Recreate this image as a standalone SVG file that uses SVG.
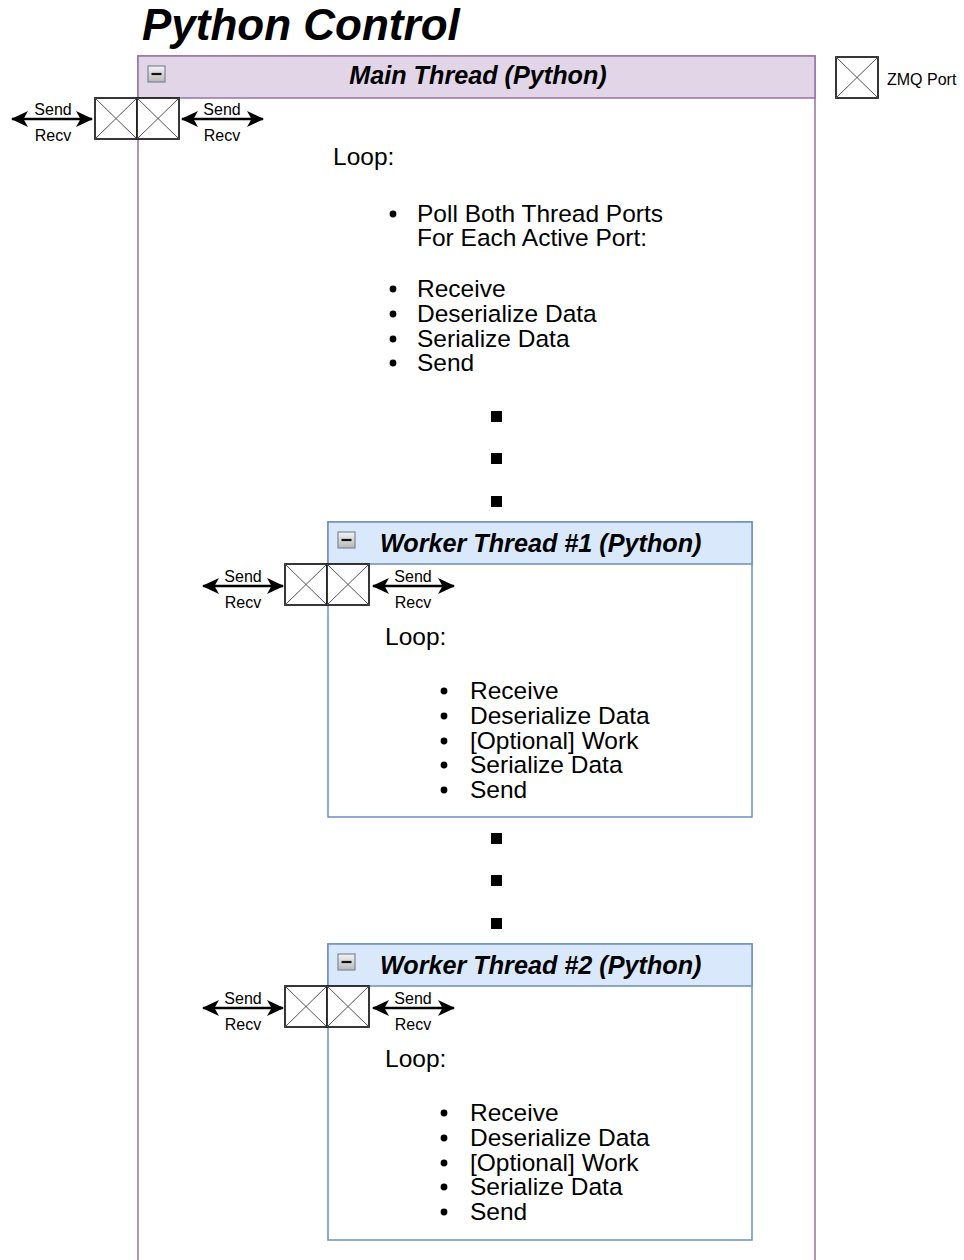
<svg xmlns="http://www.w3.org/2000/svg" width="964" height="1260" viewBox="0 0 964 1260">
<style>
text{font-family:"Liberation Sans",Arial,Helvetica,sans-serif;fill:#000}
.title{font-size:44px;font-weight:bold;font-style:italic}
.hdr{font-size:25.2px;font-weight:bold;font-style:italic}
.body{font-size:24.5px}
.sm{font-size:16px;text-anchor:middle}
.leg{font-size:16px}
.port{fill:#fff;stroke:#222;stroke-width:1.8}
.px{stroke:#555;stroke-width:1}
.arr{stroke:#000;stroke-width:2.5;fill:none;marker-start:url(#ah);marker-end:url(#ah)}
.dot{fill:#000}
</style>
<defs>
<marker id="ah" viewBox="0 0 17 16" refX="16" refY="8" markerWidth="17" markerHeight="16" orient="auto-start-reverse" markerUnits="userSpaceOnUse">
<path d="M0,0 L17,8 L0,16 L4.5,8 Z" fill="#000"/>
</marker>
<linearGradient id="cg" x1="0" y1="0" x2="0" y2="1">
<stop offset="0" stop-color="#f4f4f4"/>
<stop offset="1" stop-color="#b8b8b8"/>
</linearGradient>
<g id="collapse">
<rect x="0" y="0" width="17" height="16" fill="url(#cg)" stroke="#7a8796" stroke-width="1.2"/>
<line x1="3.5" y1="8" x2="13.5" y2="8" stroke="#111" stroke-width="2.2"/>
</g>
<g id="portbox">
<rect class="port" x="0" y="0" width="42" height="41"/>
<line class="px" x1="0" y1="0" x2="42" y2="41"/>
<line class="px" x1="42" y1="0" x2="0" y2="41"/>
</g>
</defs>

<text class="title" x="142" y="40">Python Control</text>

<g id="main-thread">
<rect x="138" y="56" width="677" height="1214" fill="#fff" stroke="#9673a6" stroke-width="1.5"/>
<rect x="138" y="56" width="677" height="42" fill="#e1d5e7" stroke="#9673a6" stroke-width="1.5"/>
<use href="#collapse" x="148" y="66"/>
<text class="hdr" x="478" y="84" text-anchor="middle">Main Thread (Python)</text>
<text class="body" x="333" y="165">Loop:</text>
<circle cx="393" cy="214" r="3.4"/>
<text class="body" x="417" y="222">Poll Both Thread Ports</text>
<text class="body" x="417" y="246">For Each Active Port:</text>
<circle cx="393" cy="289" r="3.4"/>
<text class="body" x="417" y="297">Receive</text>
<circle cx="393" cy="314" r="3.4"/>
<text class="body" x="417" y="322">Deserialize Data</text>
<circle cx="393" cy="339" r="3.4"/>
<text class="body" x="417" y="347">Serialize Data</text>
<circle cx="393" cy="363" r="3.4"/>
<text class="body" x="417" y="371">Send</text>
<rect class="dot" x="491" y="411" width="11" height="11"/>
<rect class="dot" x="491" y="453" width="11" height="11"/>
<rect class="dot" x="491" y="496" width="11" height="11"/>
<rect class="dot" x="491" y="833" width="11" height="11"/>
<rect class="dot" x="491" y="875" width="11" height="11"/>
<rect class="dot" x="491" y="918" width="11" height="11"/>
</g>

<g id="main-ports">
<use href="#portbox" x="95" y="98"/>
<use href="#portbox" x="137" y="98"/>
</g>

<g id="worker-1">
<rect x="328" y="522" width="424" height="295" fill="#fff" stroke="#6c8ebf" stroke-width="1.5"/>
<rect x="328" y="522" width="424" height="42" fill="#dae8fc" stroke="#6c8ebf" stroke-width="1.5"/>
<use href="#collapse" x="338" y="532"/>
<text class="hdr" x="380" y="552">Worker Thread #1 (Python)</text>
<text class="body" x="385" y="645">Loop:</text>
<circle cx="444" cy="691" r="3.4"/>
<text class="body" x="470" y="699">Receive</text>
<circle cx="444" cy="716" r="3.4"/>
<text class="body" x="470" y="724">Deserialize Data</text>
<circle cx="444" cy="741" r="3.4"/>
<text class="body" x="470" y="749">[Optional] Work</text>
<circle cx="444" cy="765" r="3.4"/>
<text class="body" x="470" y="773">Serialize Data</text>
<circle cx="444" cy="790" r="3.4"/>
<text class="body" x="470" y="798">Send</text>
</g>
<g id="worker-1-ports">
<use href="#portbox" x="285" y="564"/>
<use href="#portbox" x="327" y="564"/>
</g>

<g id="worker-2">
<rect x="328" y="944" width="424" height="296" fill="#fff" stroke="#6c8ebf" stroke-width="1.5"/>
<rect x="328" y="944" width="424" height="42" fill="#dae8fc" stroke="#6c8ebf" stroke-width="1.5"/>
<use href="#collapse" x="338" y="954"/>
<text class="hdr" x="380" y="974">Worker Thread #2 (Python)</text>
<text class="body" x="385" y="1067">Loop:</text>
<circle cx="444" cy="1113" r="3.4"/>
<text class="body" x="470" y="1121">Receive</text>
<circle cx="444" cy="1138" r="3.4"/>
<text class="body" x="470" y="1146">Deserialize Data</text>
<circle cx="444" cy="1163" r="3.4"/>
<text class="body" x="470" y="1171">[Optional] Work</text>
<circle cx="444" cy="1187" r="3.4"/>
<text class="body" x="470" y="1195">Serialize Data</text>
<circle cx="444" cy="1212" r="3.4"/>
<text class="body" x="470" y="1220">Send</text>
</g>
<g id="worker-2-ports">
<use href="#portbox" x="285" y="986"/>
<use href="#portbox" x="327" y="986"/>
</g>

<g id="legend">
<use href="#portbox" x="836" y="57"/>
<text class="leg" x="887" y="85">ZMQ Port</text>
</g>

<g id="connectors">
<line class="arr" x1="12" y1="119" x2="92" y2="119"/>
<text class="sm" x="53" y="115">Send</text>
<text class="sm" x="53" y="141">Recv</text>
<line class="arr" x1="182" y1="119" x2="263" y2="119"/>
<text class="sm" x="222" y="115">Send</text>
<text class="sm" x="222" y="141">Recv</text>

<line class="arr" x1="203" y1="586" x2="283" y2="586"/>
<text class="sm" x="243" y="582">Send</text>
<text class="sm" x="243" y="608">Recv</text>
<line class="arr" x1="373" y1="586" x2="454" y2="586"/>
<text class="sm" x="413" y="582">Send</text>
<text class="sm" x="413" y="608">Recv</text>

<line class="arr" x1="203" y1="1008" x2="283" y2="1008"/>
<text class="sm" x="243" y="1004">Send</text>
<text class="sm" x="243" y="1030">Recv</text>
<line class="arr" x1="373" y1="1008" x2="454" y2="1008"/>
<text class="sm" x="413" y="1004">Send</text>
<text class="sm" x="413" y="1030">Recv</text>
</g>
</svg>
